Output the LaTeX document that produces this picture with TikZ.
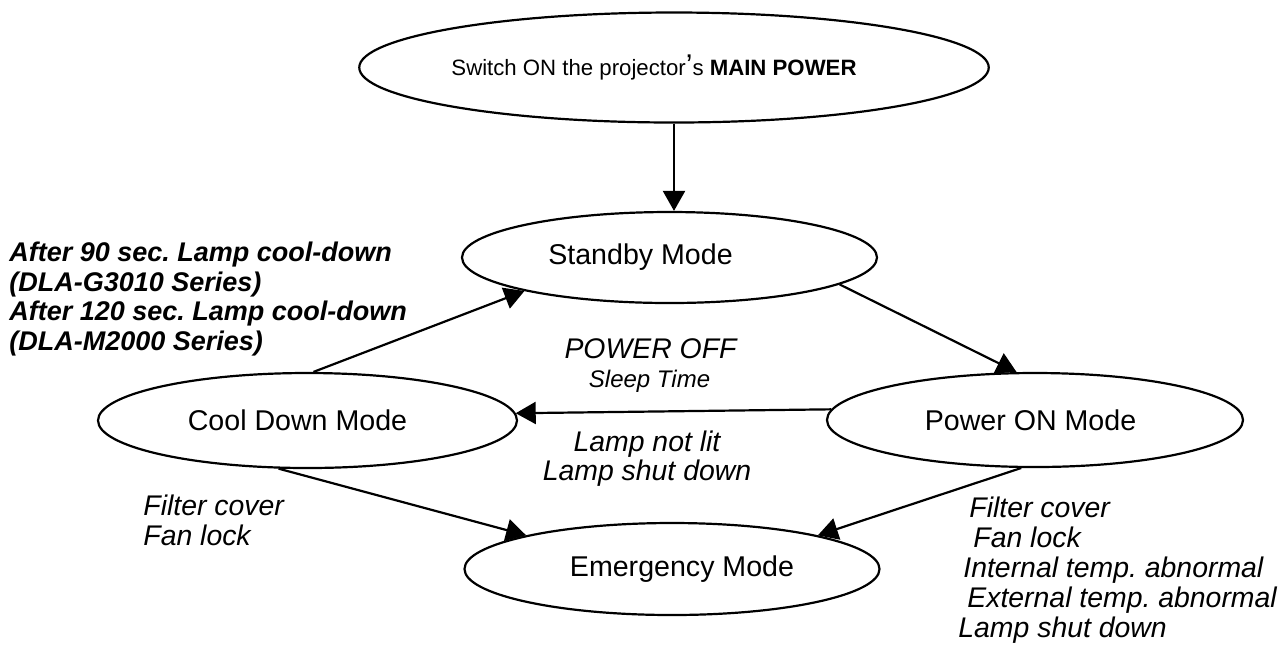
\documentclass[tikz,border=0pt]{standalone}
\usepackage{fontspec}
\setmainfont{Liberation Sans}
\usetikzlibrary{shapes.geometric,arrows.meta}
\frenchspacing
\tikzset{
  state/.style={draw,ellipse,line width=1.1pt,inner sep=0pt,font=\fontsize{14.3}{16}\selectfont},
  arr/.style={line width=1.1pt,-{Triangle[length=10pt,width=11pt]}},
  note/.style={inner sep=0pt,align=left,font=\fontsize{14.2}{15}\selectfont\itshape},
}
\begin{document}
\begin{tikzpicture}[x=0.5pt,y=-0.5pt]
  \useasboundingbox (0,0) rectangle (1286,645);
  \draw
    (674,67.5) node[state,minimum width=310pt,minimum height=55pt,font=\fontsize{11.1}{13}\selectfont] (main) {Switch ON the projector{\fontsize{15}{15}\selectfont ’}s \textbf{MAIN POWER}\hspace*{20pt}}
    (669.5,257.5) node[state,minimum width=207.5pt,minimum height=45.5pt] (standby) {Standby Mode\hspace*{29pt}}
    (307.5,420.5) node[state,minimum width=209.5pt,minimum height=47.5pt] (cool) {Cool Down Mode\hspace*{10pt}}
    (1035,420) node[state,minimum width=208pt,minimum height=47pt] (power) {Power ON Mode\hspace*{4.5pt}}
    (672,569) node[state,minimum width=207.5pt,minimum height=46pt] (emergency) {\hspace*{10pt}Emergency Mode};
  \begin{scope}[arr]
    \draw (main.south) -- (standby.north -| main.south);
    \draw (cool.83) -- (standby.193.6);
    \draw (standby.351.5) -- (power.111);
    \draw (power.177.8) -- (cool.2.3);
    \draw (cool.239) -- (emergency.167);
    \draw (power.254) -- (emergency.13);
  \end{scope}
  % transition labels
  \node[note,font=\fontsize{13.5}{14.75}\selectfont\bfseries\itshape,anchor=north west] (cooldone) at (9,242)
    {After 90 sec. Lamp cool-down\\(DLA-G3010 Series)\\After 120 sec. Lamp cool-down\\(DLA-M2000 Series)};
  \node[note,anchor=base] (poweroff) at (650.5,358) {POWER OFF};
  \node[note,font=\fontsize{12}{13}\selectfont\itshape,anchor=base] (sleeptime) at (649.5,387) {Sleep Time};
  \node[note,align=center,font=\fontsize{14.2}{12.8}\selectfont\itshape,anchor=north] (lampfail) at (647,431) {Lamp not lit\\Lamp shut down};
  \node[note,anchor=north west] (coolcause) at (143,495) {Filter cover\\Fan lock};
  \node[note,anchor=north west] (powercause) at (958,497)
    {\hspace*{5.5pt}Filter cover\\\hspace*{7.5pt}Fan lock\\\hspace*{2.5pt}Internal temp. abnormal\\\hspace*{4.5pt}External temp. abnormal\\Lamp shut down};
\end{tikzpicture}
\end{document}
